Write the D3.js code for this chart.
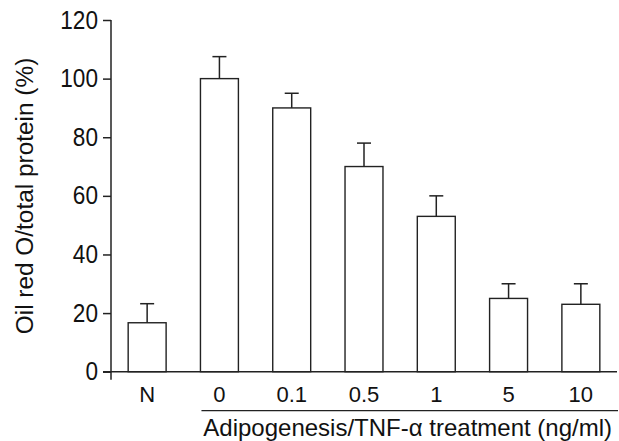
<!DOCTYPE html>
<html>
<head>
<meta charset="utf-8">
<script src="https://cdn.jsdelivr.net/npm/d3@7"></script>
<style>
  body { margin: 0; background: #fff; }
  svg text { font-family: "Liberation Sans", Arial, sans-serif; fill: #111; }
</style>
</head>
<body>
<svg id="chart" width="619" height="441"></svg>
<script>
const categories = ["N", "0", "0.1", "0.5", "1", "5", "10"];
const values = [16.7, 100, 90, 70, 53, 25, 23];
const errors = [6.5, 7.5, 5, 8, 7, 5, 7];
const yTicks = [0, 20, 40, 60, 80, 100, 120];
const yLabel = "Oil red O/total protein (%)";
const xLabel = "Adipogenesis/TNF-\u03b1 treatment (ng/ml)";

const svg = d3.select("#chart");
const plotLeft = 111, plotRight = 617, plotTop = 20, plotBottom = 371.7;

const x = d3.scaleBand()
    .domain(categories)
    .range([plotLeft, plotRight])
    .paddingInner(0.475)
    .paddingOuter(0.2375);

const y = d3.scaleLinear().domain([0, 120]).range([plotBottom, plotTop]);

const ink = "#222";

// bars
svg.append("g")
    .selectAll("rect")
    .data(values)
    .enter().append("rect")
        .attr("x", (d, i) => x(categories[i]))
        .attr("y", d => y(d))
        .attr("width", x.bandwidth())
        .attr("height", d => y(0) - y(d))
        .attr("fill", "#fff")
        .attr("stroke", ink)
        .attr("stroke-width", 1.4);

// error bars (upper only)
const err = svg.append("g").attr("stroke", ink).attr("stroke-width", 1.5);
values.forEach((v, i) => {
    const cx = x(categories[i]) + x.bandwidth() / 2;
    err.append("line")
        .attr("x1", cx).attr("x2", cx)
        .attr("y1", y(v)).attr("y2", y(v + errors[i]));
    err.append("line")
        .attr("x1", cx - 7).attr("x2", cx + 7)
        .attr("y1", y(v + errors[i])).attr("y2", y(v + errors[i]));
});

// y axis - tick labels look a bit taller than wide in the original
const yAxis = svg.append("g")
    .attr("transform", `translate(${plotLeft},0)`)
    .call(d3.axisLeft(y).tickValues(yTicks).tickSize(8).tickPadding(5));
yAxis.select(".domain").remove();
yAxis.selectAll(".tick line").attr("stroke", ink).attr("stroke-width", 1.5);
yAxis.selectAll(".tick text")
    .attr("font-size", 22.6)
    .attr("fill", "#111")
    .attr("font-family", "Liberation Sans, Arial, sans-serif")
    .attr("transform", "scale(1,1.12)");

svg.append("line")
    .attr("x1", plotLeft).attr("x2", plotLeft)
    .attr("y1", y(120)).attr("y2", plotBottom + 8)
    .attr("stroke", ink).attr("stroke-width", 1.5);

// x axis
svg.append("line")
    .attr("x1", plotLeft - 8).attr("x2", plotRight)
    .attr("y1", plotBottom).attr("y2", plotBottom)
    .attr("stroke", ink).attr("stroke-width", 1.5);

svg.append("g")
    .selectAll("text")
    .data(categories)
    .enter().append("text")
        .attr("x", d => x(d) + x.bandwidth() / 2)
        .attr("y", 402)
        .attr("text-anchor", "middle")
        .attr("font-size", 22)
        .text(d => d);

// treatment bracket line
svg.append("line")
    .attr("x1", x("0") + 1).attr("x2", plotRight + 1)
    .attr("y1", 410.7).attr("y2", 410.7)
    .attr("stroke", ink).attr("stroke-width", 1.2);

svg.append("text")
    .attr("x", 612)
    .attr("y", 436)
    .attr("text-anchor", "end")
    .attr("font-size", 24)
    .text(xLabel);

svg.append("text")
    .attr("transform", "translate(33,196) rotate(-90)")
    .attr("text-anchor", "middle")
    .attr("font-size", 24.4)
    .text(yLabel);
</script>
</body>
</html>
